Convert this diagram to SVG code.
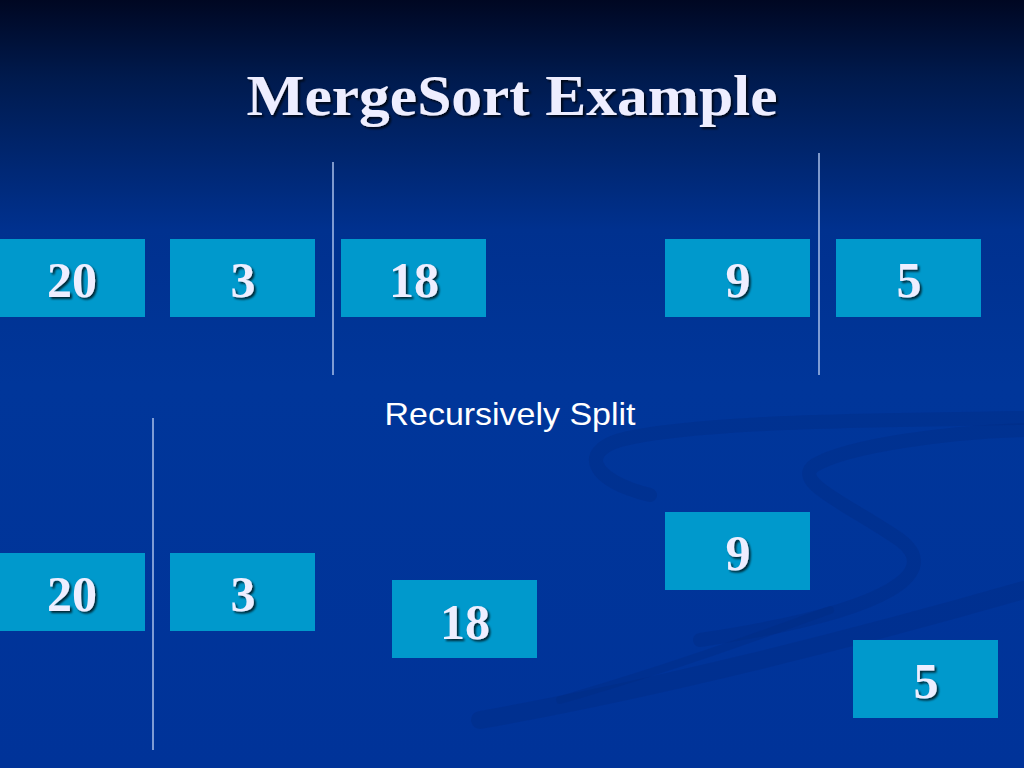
<svg xmlns="http://www.w3.org/2000/svg" width="1024" height="768" viewBox="0 0 1024 768">
<defs>
<linearGradient id="bg" x1="0" y1="0" x2="0" y2="1">
<stop offset="0" stop-color="#000722"/>
<stop offset="0.1" stop-color="#001a4d"/>
<stop offset="0.3" stop-color="#00318f"/>
<stop offset="0.5" stop-color="#00369a"/>
<stop offset="1" stop-color="#003399"/>
</linearGradient>
<filter id="sh" x="-20%" y="-20%" width="140%" height="140%">
<feDropShadow dx="2" dy="2" stdDeviation="1" flood-color="#000000" flood-opacity="0.75"/>
</filter>
</defs>
<style>
.box{fill:#0099cc;}
.num{font-family:"Liberation Serif","Times New Roman",serif;font-weight:bold;font-size:50px;fill:#eeeeff;text-anchor:middle;filter:url(#sh);}
.div{stroke:#a8bfe8;stroke-width:1.5;}
.swirl{fill:none;stroke:#002a80;stroke-linecap:round;opacity:0.35;}
</style>
<rect x="0" y="0" width="1024" height="768" fill="url(#bg)"/>
<g id="background-swirls">
<path class="swirl" stroke-width="14" d="M1024,418 C900,420 700,420 620,440 C580,452 590,480 650,495"/>
<path class="swirl" stroke-width="14" d="M1024,430 C950,432 850,445 815,465 C790,482 850,505 900,540 C940,570 900,610 700,640"/>
<path class="swirl" stroke-width="18" d="M480,720 C650,690 850,640 1024,590"/>
<path class="swirl" stroke-width="8" d="M560,700 C700,660 800,620 830,610"/>
</g>
<text x="512" y="115" font-family="'Liberation Serif','Times New Roman',serif" font-weight="bold" font-size="56" fill="#eeeeff" text-anchor="middle" textLength="531" lengthAdjust="spacingAndGlyphs" filter="url(#sh)">MergeSort Example</text>
<g id="connectors">
<line class="div" x1="333" y1="162" x2="333" y2="375"/>
<line class="div" x1="819" y1="153" x2="819" y2="375"/>
<line class="div" x1="153" y1="418" x2="153" y2="750"/>
</g>
<g id="n-top-20"><rect class="box" x="0" y="239" width="145" height="78"/><text class="num" x="72" y="297">20</text></g>
<g id="n-top-3"><rect class="box" x="170" y="239" width="145" height="78"/><text class="num" x="243" y="297">3</text></g>
<g id="n-top-18"><rect class="box" x="341" y="239" width="145" height="78"/><text class="num" x="414" y="297">18</text></g>
<g id="n-top-9"><rect class="box" x="665" y="239" width="145" height="78"/><text class="num" x="738" y="297">9</text></g>
<g id="n-top-5"><rect class="box" x="836" y="239" width="145" height="78"/><text class="num" x="909" y="297">5</text></g>
<text x="510" y="425" font-family="'Liberation Sans',Arial,sans-serif" font-size="32" fill="#ffffff" text-anchor="middle" textLength="251" lengthAdjust="spacingAndGlyphs">Recursively Split</text>
<g id="n-bot-20"><rect class="box" x="0" y="553" width="145" height="78"/><text class="num" x="72" y="611">20</text></g>
<g id="n-bot-3"><rect class="box" x="170" y="553" width="145" height="78"/><text class="num" x="243" y="611">3</text></g>
<g id="n-bot-18"><rect class="box" x="392" y="580" width="145" height="78"/><text class="num" x="465" y="639">18</text></g>
<g id="n-bot-9"><rect class="box" x="665" y="512" width="145" height="78"/><text class="num" x="738" y="570">9</text></g>
<g id="n-bot-5"><rect class="box" x="853" y="640" width="145" height="78"/><text class="num" x="926" y="698">5</text></g>
</svg>
